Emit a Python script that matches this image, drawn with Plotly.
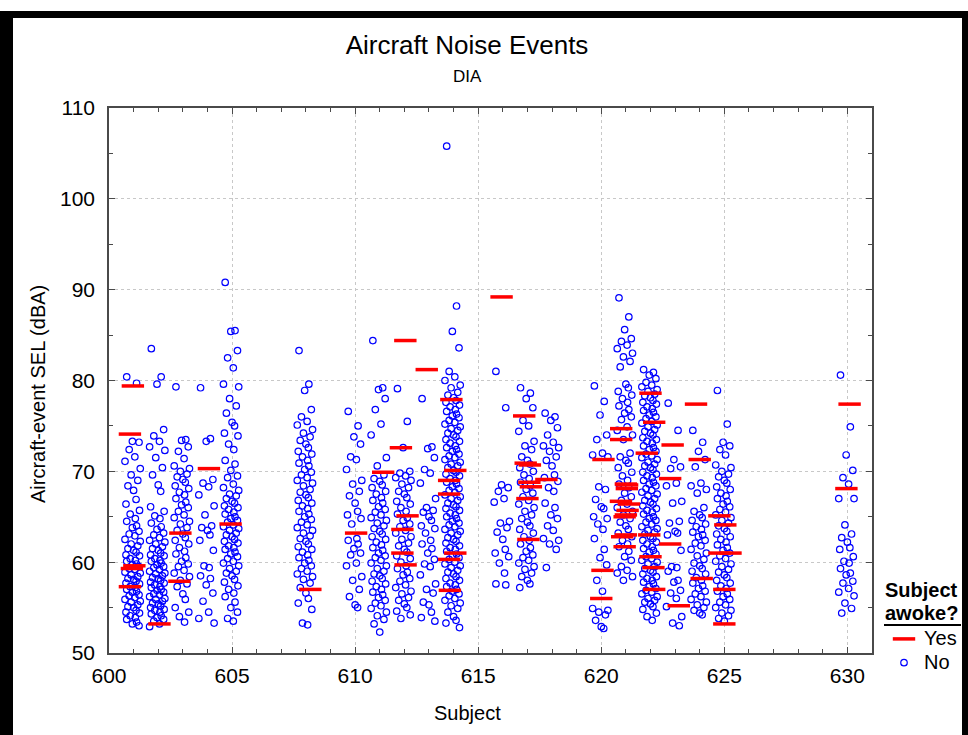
import plotly.graph_objects as go

# ---------------- data ----------------
SEL_601 = [80.4, 79.7, 73.3, 73.2, 72.4, 71.6, 71.1, 70.3, 69.6, 69.0, 68.4, 67.9, 66.9, 66.4, 65.7, 65.3, 64.8, 64.5,
           64.0, 63.8, 63.4, 63.1, 62.9, 62.5, 62.3, 62.0, 61.8, 61.5, 61.3, 61.1, 60.8, 60.7, 60.4, 60.2, 60.1, 59.8,
           59.7, 59.5, 59.3, 59.2, 58.9, 58.8, 58.6, 58.4, 58.2, 58.1, 57.9, 57.7, 57.6, 57.3, 57.2, 57.0, 56.8, 56.7,
           56.4, 56.3, 56.1, 55.9, 55.7, 55.6, 55.3, 55.1, 55.0, 54.7, 54.5, 54.4, 54.1, 53.9, 53.7, 53.4, 53.2, 53.0]
SEL_602 = [83.5, 80.4, 79.6, 74.6, 73.9, 73.3, 72.7, 72.3, 71.5, 70.4, 69.6, 68.5, 67.8, 66.1, 65.6, 65.1, 64.8, 64.3,
           63.9, 63.6, 63.2, 63.0, 62.7, 62.4, 62.2, 62.0, 61.7, 61.5, 61.3, 61.0, 60.8, 60.7, 60.4, 60.2, 60.1, 59.9,
           59.7, 59.5, 59.4, 59.2, 59.0, 58.8, 58.7, 58.5, 58.3, 58.2, 58.0, 57.8, 57.7, 57.5, 57.3, 57.2, 57.0, 56.9,
           56.7, 56.5, 56.4, 56.2, 56.0, 55.9, 55.7, 55.5, 55.4, 55.2, 55.0, 54.8, 54.7, 54.5, 54.3, 54.1, 53.9, 53.7,
           53.5, 53.2, 52.9]
SEL_603 = [79.3, 73.5, 73.4, 72.7, 72.2, 71.4, 70.6, 70.3, 70.0, 69.7, 69.4, 69.1, 68.8, 68.4, 68.1, 67.7, 67.4, 67.0,
           66.6, 66.3, 66.0, 65.6, 65.2, 64.9, 64.5, 64.2, 63.8, 63.5, 63.1, 62.7, 62.4, 62.0, 61.6, 61.2, 60.9, 60.5,
           60.1, 59.8, 59.5, 59.1, 58.8, 58.4, 58.0, 57.6, 57.3, 56.5, 55.9, 55.0, 54.5, 54.0, 53.4]
SEL_604 = [79.2, 73.6, 73.3, 69.1, 68.7, 68.3, 67.4, 66.2, 65.2, 64.0, 63.8, 63.5, 63.0, 62.4, 61.3, 59.6, 59.4, 58.5,
           58.2, 57.5, 56.6, 55.7, 54.5, 53.8, 53.3]
SEL_605 = [90.8, 85.5, 85.4, 83.3, 82.5, 81.4, 79.6, 79.3, 78.0, 77.2, 76.4, 75.4, 75.0, 74.2, 73.9, 73.0, 72.4, 71.2,
           70.8, 70.1, 69.5, 69.3, 68.6, 68.2, 67.9, 67.5, 67.3, 67.0, 66.7, 66.5, 66.2, 66.0, 65.8, 65.5, 65.3, 65.0,
           64.8, 64.6, 64.4, 64.1, 63.9, 63.7, 63.5, 63.2, 63.0, 62.8, 62.5, 62.3, 62.1, 61.8, 61.6, 61.4, 61.1, 60.9,
           60.6, 60.4, 60.1, 59.9, 59.6, 59.3, 59.0, 58.8, 58.5, 58.1, 57.8, 57.4, 57.0, 56.6, 56.2, 55.6, 55.0, 54.5,
           53.8, 53.5]
SEL_608 = [83.3, 79.6, 78.9, 76.8, 76.0, 75.5, 75.1, 74.6, 74.2, 73.8, 73.4, 73.0, 72.6, 72.2, 71.9, 71.6, 71.2, 70.9,
           70.6, 70.2, 69.9, 69.6, 69.3, 69.0, 68.7, 68.4, 68.0, 67.7, 67.4, 67.1, 66.8, 66.5, 66.2, 65.9, 65.6, 65.3,
           65.0, 64.7, 64.4, 64.1, 63.8, 63.5, 63.2, 62.9, 62.6, 62.3, 62.0, 61.7, 61.4, 61.1, 60.8, 60.5, 60.2, 59.9,
           59.6, 59.3, 59.0, 58.7, 58.4, 58.1, 57.7, 57.2, 56.6, 56.0, 55.5, 54.8, 53.3, 53.1]
SEL_610 = [76.6, 75.0, 73.8, 73.0, 71.6, 71.3, 70.2, 69.0, 68.6, 67.8, 67.3, 66.5, 65.6, 65.2, 64.8, 64.2, 62.6, 62.4,
           62.0, 61.5, 61.0, 60.8, 59.9, 59.6, 58.4, 58.0, 57.0, 56.2, 55.3, 55.0]
SEL_611 = [84.4, 79.2, 79.0, 78.0, 76.8, 75.2, 74.0, 71.5, 70.6, 69.6, 69.2, 68.9, 68.5, 68.2, 67.8, 67.5, 67.1, 66.8,
           66.5, 66.1, 65.8, 65.5, 65.2, 64.9, 64.6, 64.3, 64.0, 63.7, 63.4, 63.1, 62.8, 62.5, 62.2, 61.9, 61.6, 61.3,
           61.0, 60.7, 60.5, 60.2, 59.9, 59.6, 59.3, 59.0, 58.7, 58.5, 58.2, 57.9, 57.6, 57.3, 57.0, 56.7, 56.4, 56.1,
           55.8, 55.5, 55.2, 54.9, 54.5, 54.1, 53.7, 53.2, 52.3]
SEL_612 = [79.1, 75.5, 72.6, 70.0, 69.8, 69.5, 69.3, 69.0, 68.6, 68.2, 67.8, 67.5, 67.1, 66.7, 66.4, 66.0, 65.6, 65.3,
           64.9, 64.6, 64.2, 63.9, 63.5, 63.2, 62.8, 62.5, 62.1, 61.8, 61.4, 61.1, 60.7, 60.4, 60.0, 59.6, 59.3, 58.9,
           58.6, 58.2, 57.9, 57.5, 57.2, 56.8, 56.5, 56.1, 55.8, 55.4, 55.0, 54.6, 54.2, 53.8]
SEL_613 = [78.0, 72.7, 72.5, 71.5, 70.2, 69.8, 68.7, 67.0, 66.0, 65.7, 65.5, 65.0, 64.6, 64.0, 63.7, 63.2, 62.4, 62.0,
           61.5, 61.0, 60.3, 59.8, 59.5, 58.6, 57.6, 57.0, 56.6, 55.6, 55.3, 54.5, 53.9, 53.5]
SEL_614 = [105.8, 88.2, 85.4, 83.6, 81.0, 80.4, 80.0, 79.5, 79.2, 78.7, 78.4, 78.1, 77.8, 77.6, 77.3, 77.1, 76.8, 76.6,
           76.3, 76.1, 75.9, 75.6, 75.4, 75.2, 74.9, 74.7, 74.5, 74.2, 74.0, 73.8, 73.5, 73.3, 73.1, 72.8, 72.6, 72.4,
           72.2, 71.9, 71.7, 71.5, 71.3, 71.0, 70.8, 70.6, 70.4, 70.1, 69.9, 69.7, 69.5, 69.2, 69.0, 68.8, 68.6, 68.3,
           68.1, 67.9, 67.7, 67.4, 67.2, 67.0, 66.8, 66.5, 66.3, 66.1, 65.9, 65.7, 65.4, 65.2, 65.0, 64.8, 64.5, 64.3,
           64.1, 63.9, 63.6, 63.4, 63.2, 63.0, 62.7, 62.5, 62.3, 62.1, 61.8, 61.6, 61.4, 61.2, 60.9, 60.7, 60.5, 60.3,
           60.0, 59.8, 59.6, 59.4, 59.1, 58.9, 58.7, 58.4, 58.2, 58.0, 57.7, 57.5, 57.3, 57.0, 56.8, 56.5, 56.3, 56.0,
           55.8, 55.5, 55.2, 54.9, 54.5, 54.0, 53.6, 53.3, 52.8]
SEL_616 = [81.0, 77.0, 68.5, 68.2, 67.8, 67.0, 66.6, 64.5, 64.3, 63.8, 63.3, 62.5, 61.4, 61.0, 60.6, 59.9, 58.8, 57.6,
           57.5]
SEL_617 = [79.2, 78.6, 78.0, 77.0, 75.6, 75.0, 74.4, 73.3, 72.8, 72.4, 71.6, 71.2, 70.8, 70.4, 70.0, 69.6, 69.2, 68.8,
           68.4, 68.0, 67.6, 67.2, 66.8, 66.4, 66.0, 65.6, 65.2, 64.8, 64.4, 64.0, 63.6, 63.2, 62.8, 62.4, 62.0, 61.6,
           61.2, 60.8, 60.5, 60.2, 59.9, 59.5, 59.2, 58.8, 58.4, 58.0, 57.6, 57.2]
SEL_618 = [76.4, 76.0, 75.6, 74.8, 74.0, 73.2, 72.8, 72.6, 72.2, 71.6, 71.2, 70.6, 69.6, 69.3, 68.9, 68.2, 67.8, 66.5,
           66.0, 65.2, 64.8, 64.0, 63.5, 62.6, 62.4, 62.0, 61.4, 59.4]
SEL_620 = [79.4, 77.7, 76.2, 74.0, 73.5, 72.0, 71.8, 71.6, 68.3, 68.0, 66.9, 66.1, 65.9, 65.0, 64.8, 64.2, 63.6, 62.6,
           61.4, 60.5, 59.7, 58.0, 56.8, 54.9, 54.7, 54.5, 54.2, 53.6, 52.9, 52.7]
SEL_621 = [89.1, 87.0, 85.6, 84.6, 84.3, 83.9, 83.5, 83.0, 82.6, 82.1, 81.5, 79.6, 79.2, 78.8, 78.4, 78.0, 77.6, 77.2,
           76.8, 76.4, 76.0, 75.7, 74.9, 74.5, 74.0, 73.5, 72.0, 71.6, 71.2, 70.9, 70.4, 69.9, 69.5, 69.0, 68.6, 68.2,
           67.6, 67.2, 66.8, 66.4, 66.0, 65.6, 65.2, 64.8, 64.4, 64.0, 63.6, 63.2, 62.8, 62.4, 62.0, 61.7, 61.2, 60.6,
           60.2, 59.5, 59.1, 58.8, 58.4, 58.0]
SEL_622 = [81.2, 80.9, 80.6, 80.2, 79.8, 79.5, 79.3, 79.0, 78.8, 78.5, 78.3, 78.1, 77.8, 77.6, 77.4, 77.1, 76.9, 76.7,
           76.5, 76.2, 76.0, 75.8, 75.5, 75.3, 75.1, 74.9, 74.6, 74.4, 74.2, 74.0, 73.7, 73.5, 73.3, 73.1, 72.8, 72.6,
           72.4, 72.2, 71.9, 71.7, 71.5, 71.3, 71.0, 70.8, 70.6, 70.4, 70.2, 69.9, 69.7, 69.5, 69.3, 69.0, 68.8, 68.6,
           68.4, 68.1, 67.9, 67.7, 67.5, 67.3, 67.0, 66.8, 66.6, 66.4, 66.2, 65.9, 65.7, 65.5, 65.3, 65.0, 64.8, 64.6,
           64.4, 64.2, 63.9, 63.7, 63.5, 63.3, 63.1, 62.8, 62.6, 62.4, 62.2, 62.0, 61.7, 61.5, 61.3, 61.1, 60.9, 60.6,
           60.4, 60.2, 60.0, 59.8, 59.5, 59.3, 59.1, 58.9, 58.7, 58.4, 58.2, 58.0, 57.8, 57.6, 57.3, 57.1, 56.9, 56.7,
           56.5, 56.2, 56.0, 55.8, 55.6, 55.4, 55.1, 54.8, 54.4, 54.0, 53.6]
SEL_623 = [77.5, 74.5, 71.3, 70.5, 70.3, 68.7, 68.4, 66.7, 66.5, 64.5, 64.3, 63.4, 63.2, 63.0, 61.3, 59.5, 59.4, 59.0,
           58.0, 57.8, 56.9, 56.6, 56.0, 55.1, 54.0, 53.3, 53.0]
SEL_624 = [74.5, 73.2, 72.2, 71.3, 70.5, 68.7, 68.4, 68.0, 67.6, 66.0, 65.6, 65.2, 64.9, 64.6, 64.2, 63.9, 63.6, 63.3,
           63.0, 62.8, 62.4, 62.1, 61.8, 61.4, 61.0, 60.7, 60.3, 59.9, 59.6, 59.3, 59.0, 58.7, 58.3, 58.0, 57.7, 57.4,
           57.1, 56.8, 56.5, 56.2, 55.9, 55.6, 55.3, 55.0, 54.7, 54.4, 54.2]
SEL_625 = [78.9, 75.2, 73.2, 72.8, 72.4, 71.8, 70.7, 70.4, 70.0, 69.7, 69.4, 69.0, 68.7, 68.3, 68.0, 67.6, 67.3, 67.0,
           66.7, 66.4, 66.1, 65.8, 65.5, 65.2, 64.9, 64.6, 64.3, 64.0, 63.7, 63.4, 63.1, 62.8, 62.5, 62.2, 61.9, 61.6,
           61.3, 61.0, 60.7, 60.4, 60.1, 59.8, 59.5, 59.2, 58.9, 58.6, 58.3, 58.0, 57.7, 57.4, 57.1, 56.8, 56.5, 56.2,
           55.9, 55.6, 55.3, 55.0, 54.7, 54.4, 54.1, 53.8, 53.5]
SEL_630 = [80.6, 74.9, 71.8, 70.1, 69.3, 68.6, 67.0, 67.0, 64.1, 63.1, 62.7, 62.2, 61.6, 61.4, 60.6, 60.1, 59.9, 59.3,
           58.8, 58.6, 57.9, 57.7, 57.1, 56.7, 56.3, 55.5, 54.9, 54.4]

NO_SUBJECTS = [601, 602, 603, 604, 605, 608, 610, 611, 612, 613, 614, 616, 617, 618, 620, 621, 622, 623, 624, 625, 630]
NO_SEL = [SEL_601, SEL_602, SEL_603, SEL_604, SEL_605, SEL_608, SEL_610, SEL_611, SEL_612, SEL_613, SEL_614,
          SEL_616, SEL_617, SEL_618, SEL_620, SEL_621, SEL_622, SEL_623, SEL_624, SEL_625, SEL_630]

# "Yes" (subject awoke) events
YES_SUBJECT = [601, 601, 601, 601, 601, 602, 603, 603, 604, 605, 608, 610, 611,
               612, 612, 612, 612, 612, 612, 613,
               614, 614, 614, 614, 614, 614, 614, 616,
               617, 617, 617, 617, 617, 617, 617, 618,
               620, 620, 620,
               621, 621, 621, 621, 621, 621, 621, 621, 621, 621, 621, 621, 621,
               622, 622, 622, 622, 622, 622, 622,
               623, 623, 623, 623, 624, 624, 624,
               625, 625, 625, 625, 625, 625, 630, 630]
YES_SEL = [79.4, 74.1, 59.6, 59.3, 57.3, 53.2, 63.2, 57.9, 70.3, 64.2, 57.0, 63.2, 69.9,
           84.4, 72.6, 65.1, 63.6, 61.0, 59.7, 81.2,
           77.9, 70.1, 69.0, 67.5, 61.0, 60.3, 56.9, 89.2,
           76.1, 70.9, 70.7, 68.8, 68.3, 67.0, 62.5, 69.1,
           71.3, 59.1, 56.0,
           74.7, 73.5, 68.6, 68.5, 68.1, 66.7, 66.4, 65.7, 65.2, 65.0, 63.0, 62.8, 61.7,
           78.6, 75.4, 72.0, 63.0, 60.6, 59.4, 57.0,
           72.9, 69.2, 62.0, 55.2, 77.4, 71.3, 58.2,
           65.1, 64.1, 61.0, 61.0, 57.0, 53.2, 77.4, 68.1]

# ---------------- placement (jitter within a subject column) ----------------
NO_JITTER = [-0.28, 0.12, -0.05, 0.22, -0.18, 0.05, -0.35, 0.27, -0.1, 0.17, -0.23, 0.0, 0.1, -0.31, 0.24, -0.14, 0.07]
YES_JITTER = [-0.03, -0.15, 0.03, -0.07, -0.15, 0.05, -0.1, -0.14, 0.06, -0.06, 0.18, 0.04, 0.14,
              0.04, -0.14, 0.13, -0.08, -0.08, 0.05, -0.09,
              -0.09, 0.07, -0.18, -0.18, 0.07, -0.18, -0.15, -0.05,
              -0.13, -0.07, 0.1, 0.08, 0.14, 0.0, 0.04, -0.23,
              0.09, 0.05, 0.0,
              -0.19, -0.19, 0.0, 0.05, 0.04, -0.2, 0.12, 0.07, 0.0, -0.05, 0.0, -0.15, -0.05,
              0.0, 0.15, -0.15, -0.05, 0.0, 0.12, 0.15,
              -0.1, -0.2, -0.2, 0.15, -0.15, 0.0, 0.08,
              -0.2, 0.04, -0.2, 0.25, 0.0, 0.0, 0.09, -0.04]

no_x, no_y = [], []
for subj, vals in zip(NO_SUBJECTS, NO_SEL):
    for i, v in enumerate(vals):
        no_x.append(subj + NO_JITTER[i % len(NO_JITTER)])
        no_y.append(v)
yes_x = [s + d for s, d in zip(YES_SUBJECT, YES_JITTER)]

FONT = "Liberation Sans, Arial, sans-serif"
W, H = 968, 735
ML, MR, MT, MB = 109, 96, 108, 82
PW, PH = W - ML - MR, H - MT - MB


def px(xp):
    return (xp - ML) / PW


def py(yp):
    return (H - MB - yp) / PH


fig = go.Figure()
fig.add_trace(go.Scatter(
    x=no_x, y=no_y, mode="markers", name="<span style='font-size:20px'>No</span>",
    marker=dict(symbol="circle-open", size=6.5, color="#0000ff", line=dict(width=1.2)),
    hovertemplate="Subject %{x:.0f}<br>SEL %{y} dBA<extra>No</extra>"))
fig.add_trace(go.Scatter(
    x=yes_x, y=YES_SEL, mode="markers", name="<span style='font-size:20px'>Yes</span>",
    marker=dict(symbol="line-ew", size=16, line=dict(color="#ff0000", width=3.5), color="#ff0000"),
    hovertemplate="Subject %{x:.0f}<br>SEL %{y} dBA<extra>Yes</extra>"))

axis_common = dict(
    showline=True, linecolor="#4a4a4a", linewidth=1.5, mirror="ticks",
    ticks="inside", ticklen=6, tickcolor="#4a4a4a",
    showgrid=True, gridcolor="#c8c8c8", griddash="dot", gridwidth=1,
    zeroline=False, tickfont=dict(family=FONT, size=21, color="black"),
)
fig.update_layout(
    width=W, height=H,
    margin=dict(l=ML, r=MR, t=MT, b=MB, autoexpand=False),
    paper_bgcolor="white", plot_bgcolor="white",
    font=dict(family=FONT, color="black"),
    title=dict(text="Aircraft Noise Events", x=467 / W, xref="container", xanchor="center",
               y=1 - 45 / H, yref="container", yanchor="middle",
               font=dict(family=FONT, size=26, color="black")),
    xaxis=dict(range=[600, 631], tick0=600, dtick=5,
               minor=dict(dtick=1, ticks="inside", ticklen=4, tickcolor="#4a4a4a", showgrid=False),
               ticklabelstandoff=3, **axis_common),
    yaxis=dict(range=[50, 110], tick0=50, dtick=10,
               minor=dict(dtick=5, ticks="inside", ticklen=4, tickcolor="#4a4a4a", showgrid=False),
               ticklabelstandoff=8, **axis_common),
    legend=dict(
        x=px(884), y=py(622), xanchor="left", yanchor="top",
        font=dict(family=FONT, size=16, color="black"),
        bgcolor="rgba(0,0,0,0)", itemsizing="trace", tracegroupgap=0,
        traceorder="reversed",
    ),
    showlegend=True,
)

def label(text, x, y, size, angle=0, bold=False, xanchor="center"):
    fig.add_annotation(text=f"<b>{text}</b>" if bold else text, x=px(x), y=py(y),
                       xref="paper", yref="paper", showarrow=False, textangle=angle,
                       font=dict(family=FONT, size=size, color="black"),
                       xanchor=xanchor, yanchor="middle")

label("DIA", 467, 77, 17)
label("Subject", 467, 713, 20)
label("Aircraft-event SEL (dBA)", 38, 394, 20, angle=-90)
label("Subject", 883, 590, 20, bold=True, xanchor="left")
label("awoke?", 883, 613, 20, bold=True, xanchor="left")

# black frame around the picture and legend-title underline
frame = dict(type="rect", xref="paper", yref="paper", fillcolor="black", line=dict(width=0), layer="above")
fig.add_shape(x0=px(0), x1=px(13), y0=py(H), y1=py(11), **frame)
fig.add_shape(x0=px(5), x1=px(W), y0=py(18), y1=py(11), **frame)
fig.add_shape(x0=px(962), x1=px(W), y0=py(H), y1=py(11), **frame)
fig.add_shape(type="line", xref="paper", yref="paper", x0=px(884), x1=px(961), y0=py(625), y1=py(625),
              line=dict(color="black", width=2))

fig.write_html("out.html", config={"displayModeBar": False},
               post_script="document.body.style.margin='0';")
